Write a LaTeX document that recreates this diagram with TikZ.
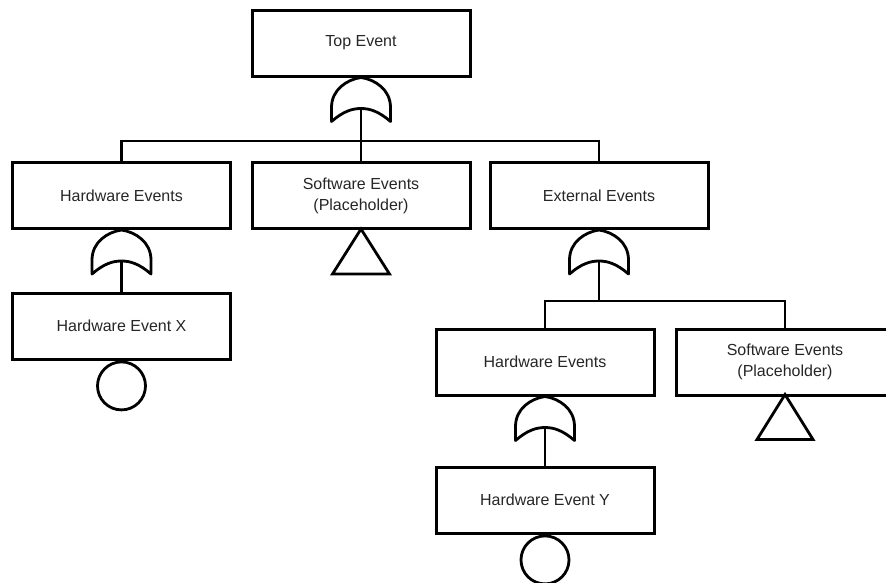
\documentclass[tikz,border=0pt]{standalone}
\usepackage{fontspec}
\setmainfont{Liberation Sans}
\begin{document}
\begin{tikzpicture}[x=1pt,y=-1pt,
  event/.style={draw, line width=3pt, rectangle, minimum width=218pt,
    minimum height=66pt, inner sep=0pt, align=center,
    font=\fontsize{16}{21}\selectfont, text=black!85},
  basic/.style={draw, line width=2.8pt, circle, minimum size=48pt, inner sep=0pt},
  wire/.style={line width=2.8pt},
  orgate/.pic={
    \draw[line width=2.8pt, line join=round]
      (-29.5,44) -- (-29.5,30)
      .. controls (-29.5,12) and (-14,2) .. (0,0)
      .. controls (14,2) and (29.5,12) .. (29.5,30)
      -- (29.5,44)
      .. controls (18,34) and (9,31) .. (0,31)
      .. controls (-9,31) and (-18,34) .. (-29.5,44) -- cycle;
    \coordinate (-out) at (0,31);
  }
]
\path[use as bounding box, clip] (0,0) rectangle (886,582);

% top event and its OR gate
\node[event] (top) at (361,43) {Top Event};
\pic (g0) at (top.south) {orgate};
\coordinate (bus1) at (361,141);

% first level
\node[event] (hw1) at (121.5,195.5) {Hardware Events};
\node[event] (sw1) at (361,195.5) {Software Events\\(Placeholder)};
\node[event] (ext) at (599,195.5) {External Events};

\draw[wire] (g0-out) -- (sw1.north);
\draw[wire] (hw1.north) |- (bus1) -| (ext.north);

% hardware branch
\pic (g1) at (hw1.south) {orgate};
\node[event] (hwx) at (121.5,326) {Hardware Event X};
\node[basic, anchor=north] (bx) at (hwx.south) {};
\draw[wire] (g1-out) -- (hwx.north);

% undeveloped software event
\coordinate (t1) at ([yshift=1pt]sw1.south);
\draw[wire, line join=miter] (t1) -- ++(28.5,45) -- ++(-57,0) -- cycle;

% external branch
\pic (g2) at (ext.south) {orgate};
\coordinate (bus2) at (599,301);
\node[event] (hw2) at (545,362) {Hardware Events};
\node[event] (sw2) at (785,362) {Software Events\\(Placeholder)};
\draw[wire] (g2-out) -- (bus2);
\draw[wire] (hw2.north) |- (bus2) -| (sw2.north);

\coordinate (t2) at ([yshift=2pt]sw2.south);
\draw[wire, line join=miter] (t2) -- ++(28,45) -- ++(-56,0) -- cycle;

\pic (g3) at (hw2.south) {orgate};
\node[event] (hwy) at (545,500) {Hardware Event Y};
\node[basic, anchor=north] (by) at (hwy.south) {};
\draw[wire] (g3-out) -- (hwy.north);
\end{tikzpicture}
\end{document}
